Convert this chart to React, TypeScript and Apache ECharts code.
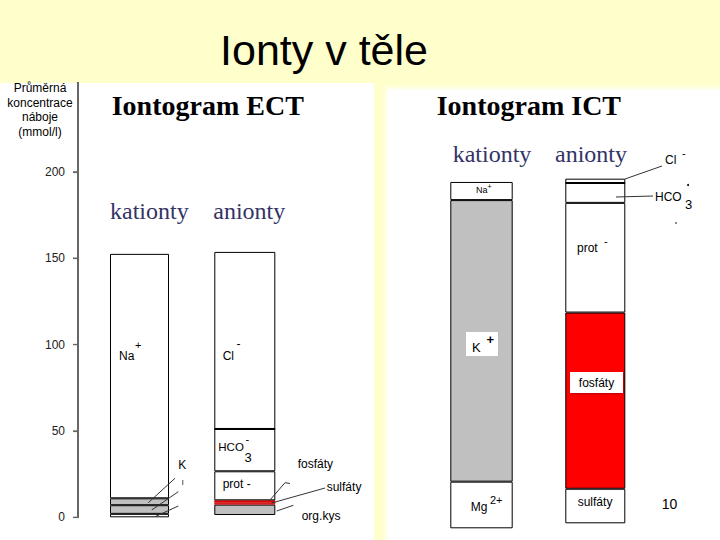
import React, { useEffect, useRef } from 'react';
import * as echarts from 'echarts';

// ---------- data ----------
const ectCationNames = ['Mg2+', 'Ca2+', 'K+', 'Na+'];
const ectCationValues = [2, 5, 4, 141.5];
const ectAnionNames = ['org.kys', 'sulfáty', 'fosfáty', 'prot-', 'HCO3-', 'Cl-'];
const ectAnionValues = [6, 1, 1.5, 16.8, 24.5, 102.5];
const ictCationNames = ['Mg2+', 'K+', 'Na+'];
const ictCationValues = [27, 163, 10.5];
const ictAnionNames = ['sulfáty', 'fosfáty', 'prot-', 'HCO3-', 'Cl-'];
const ictAnionValues = [20, 102, 63.5, 11.5, 2.5];
const axisTickValues = [0, 50, 100, 150, 200];
const axisMax = 200;
const axisStep = 50;

// ---------- styles ----------
const GREY = '#c0c0c0';
const WHITE = '#ffffff';
const RED = '#ff0000';
const ECTRED = '#e80000';
const ectCationColors = [WHITE, GREY, GREY, WHITE];
const ectAnionColors = [GREY, ECTRED, ECTRED, WHITE, WHITE, WHITE];
const ictCationColors = [WHITE, GREY, WHITE];
const ictAnionColors = [WHITE, RED, WHITE, WHITE, WHITE];

const SANS = '"Liberation Sans", Arial, sans-serif';
const SERIF = '"Liberation Serif", "Times New Roman", serif';
const PPU = 1.7274; // pixels per mmol/l
const AXIS_COLOR = '#666666';
const AXIS_X = 78;
const AXIS_BASE = 517.3;
const AXIS_TOP = 82;

const panels = [
  { left: AXIS_X, width: 123, top: AXIS_BASE - axisMax * PPU, baseY: AXIS_BASE, barWidth: 59, names: ectCationNames, values: ectCationValues, colors: ectCationColors, showAxis: true, thick: -1 },
  { left: 214.3, width: 61, top: 82, baseY: 515, barWidth: 61, names: ectAnionNames, values: ectAnionValues, colors: ectAnionColors, showAxis: false, thick: 4 },
  { left: 450.3, width: 62.4, top: 100, baseY: 528.3, barWidth: 62.4, names: ictCationNames, values: ictCationValues, colors: ictCationColors, showAxis: false, thick: -1 },
  { left: 565.3, width: 60, top: 100, baseY: 523.3, barWidth: 60, names: ictAnionNames, values: ictAnionValues, colors: ictAnionColors, showAxis: false, thick: 3 },
];

const txt = (text: string, x: number, y: number, size: number, o: any = {}) => ({
  type: 'text',
  x,
  y,
  z: 100,
  silent: true,
  style: {
    text,
    fill: o.fill ?? '#000',
    font: `${o.weight ?? 'normal'} ${size}px ${o.family ?? SANS}`,
    align: o.align ?? 'left',
    textAlign: o.align ?? 'left',
    verticalAlign: 'middle',
    textVerticalAlign: 'middle',
  },
});

const line = (pts: number[][], color = '#333', width = 1) => ({
  type: 'polyline',
  z: 100,
  silent: true,
  shape: { points: pts },
  style: { stroke: color, lineWidth: width, fill: null },
});

const seg = (x1: number, y1: number, x2: number, y2: number, color: string, width: number) => ({
  type: 'line',
  z: 110,
  silent: true,
  shape: { x1, y1, x2, y2 },
  style: { stroke: color, lineWidth: width },
});

export default function App() {
  const ref = useRef<HTMLDivElement>(null);

  useEffect(() => {
    document.body.style.margin = '0';
    if (!ref.current) return;
    const chart = echarts.init(ref.current, null, { renderer: 'svg' });

    const grid: any[] = [];
    const xAxis: any[] = [];
    const yAxis: any[] = [];
    const series: any[] = [];

    panels.forEach((p, i) => {
      const h = p.baseY - p.top;
      grid.push({ left: p.left, width: p.width, top: p.top, height: h, containLabel: false });
      xAxis.push({ type: 'category', gridIndex: i, data: ['x'], show: false });
      yAxis.push({
        type: 'value',
        gridIndex: i,
        position: 'left',
        min: 0,
        max: p.showAxis ? axisMax : h / PPU,
        interval: axisStep,
        show: p.showAxis,
        splitLine: { show: false },
        axisLine: { show: true, onZero: false, lineStyle: { color: AXIS_COLOR, width: 2 } },
        axisTick: { show: true, length: 5, lineStyle: { color: AXIS_COLOR, width: 1.2 } },
        axisLabel: { show: true, margin: 13, color: '#222', fontSize: 12, fontFamily: SANS },
      });
      let cum = 0;
      p.values.forEach((v, j) => {
        cum += v;
        const isRed = p.colors[j] === ECTRED;
        const s: any = {
          type: 'bar',
          name: p.names[j],
          xAxisIndex: i,
          yAxisIndex: i,
          stack: 'st' + i,
          data: [v],
          barWidth: p.barWidth,
          silent: true,
          itemStyle: { color: p.colors[j], borderColor: isRed ? '#c00000' : '#000', borderWidth: isRed ? 0.6 : 1 },
        };
        if (j === p.thick) {
          s.markLine = {
            silent: true,
            symbol: 'none',
            label: { show: false },
            lineStyle: { color: '#000', width: 2.2, type: 'solid' },
            data: [{ yAxis: cum }],
          };
        }
        series.push(s);
      });
    });

    // value axis line (extended above the last tick) and ticks, on the axis scale
    const axisGraphics: any[] = [
      seg(AXIS_X, AXIS_TOP, AXIS_X, AXIS_BASE, AXIS_COLOR, 2),
      ...axisTickValues.map((v) => seg(AXIS_X - 5, AXIS_BASE - v * PPU, AXIS_X, AXIS_BASE - v * PPU, AXIS_COLOR, 1.2)),
    ];

    const graphic: any[] = [
      ...axisGraphics,
      txt('Ionty v těle', 324, 50, 43, { align: 'center' }),
      // axis name
      txt('Průměrná', 40, 88, 12, { align: 'center' }),
      txt('koncentrace', 40, 103, 12, { align: 'center' }),
      txt('náboje', 40, 117, 12, { align: 'center' }),
      txt('(mmol/l)', 40, 132, 12, { align: 'center' }),
      // headings
      txt('Iontogram ECT', 111.7, 105, 28, { family: SERIF, weight: 'bold' }),
      txt('Iontogram ICT', 436.7, 105, 28, { family: SERIF, weight: 'bold' }),
      txt('kationty', 110, 211, 24, { family: SERIF, fill: '#333366' }),
      txt('anionty', 213.3, 211, 24, { family: SERIF, fill: '#333366' }),
      txt('kationty', 452.7, 154, 24, { family: SERIF, fill: '#333366' }),
      txt('anionty', 555, 154, 24, { family: SERIF, fill: '#333366' }),
      // ECT cation labels
      txt('Na', 119, 356, 12),
      txt('+', 135, 345, 11),
      txt('K', 178.3, 465, 12),
      line([[182.8, 480], [182.8, 485]], '#555'),
      line([[148.3, 502.7], [175, 478.3]]),
      line([[151.7, 510], [178.3, 491.7]]),
      line([[155, 516.7], [178.3, 506]]),
      // ECT anion labels
      txt('Cl', 222.7, 356, 12),
      txt('-', 236.5, 344, 12),
      txt('HCO', 218.3, 446.5, 11.5),
      txt('-', 245.5, 438.5, 11),
      txt('3', 244.5, 457, 13),
      txt('prot -', 222.7, 484.3, 12),
      txt('fosfáty', 297.7, 464.3, 12),
      txt('sulfáty', 326.7, 486.7, 12),
      txt('org.kys', 301.7, 515.7, 12),
      line([[270, 500], [285, 482.7], [290, 483.5]]),
      line([[271.7, 503], [325, 488]]),
      line([[276.7, 511], [293.3, 505.3]]),
      // ICT cation labels
      txt('Na', 476, 189.5, 9),
      txt('+', 487.5, 186, 7),
      { type: 'rect', z: 99, silent: true, shape: { x: 466, y: 332, width: 32, height: 24 }, style: { fill: '#fff' } },
      txt('K', 472, 347.5, 13),
      txt('+', 486.5, 339, 13, { weight: 'bold' }),
      txt('Mg', 470.7, 507.3, 12),
      txt('2+', 490, 500, 11),
      // ICT anion labels
      txt('prot', 577, 248.3, 12),
      txt('-', 604, 241, 11),
      { type: 'rect', z: 99, silent: true, shape: { x: 570, y: 372, width: 53, height: 21 }, style: { fill: '#fff', shadowBlur: 2, shadowColor: 'rgba(0,0,0,0.3)', shadowOffsetX: 1, shadowOffsetY: 1 } },
      txt('fosfáty', 596.5, 382.5, 12, { align: 'center' }),
      txt('sulfáty', 577.7, 501.7, 12),
      txt('Cl', 665, 160, 12),
      txt('-', 682, 153, 11),
      txt('HCO', 655, 196.7, 12),
      txt('3', 685, 204, 13),
      { type: 'circle', z: 100, silent: true, shape: { cx: 688, cy: 185, r: 1 }, style: { fill: '#000' } },
      { type: 'circle', z: 100, silent: true, shape: { cx: 676, cy: 223, r: 0.8 }, style: { fill: '#444' } },
      line([[625, 179], [662, 166]]),
      line([[616, 197], [653, 196]]),
      txt('10', 661.7, 504, 14),
    ];

    chart.setOption({
      animation: false,
      backgroundColor: 'transparent',
      grid,
      xAxis,
      yAxis,
      series,
      graphic,
    });
    return () => chart.dispose();
  }, []);

  return (
    <div style={{ position: 'fixed', left: 0, top: 0, width: 720, height: 540, background: '#ffffcc', overflow: 'hidden' }}>
      <div style={{ position: 'absolute', left: 0, top: 83, width: 374, height: 457, background: '#ffffff' }} />
      <div style={{ position: 'absolute', left: 388, top: 90, width: 332, height: 450, background: '#ffffff', boxShadow: '0 0 5px 2px #ffffff' }} />
      <div ref={ref} style={{ position: 'absolute', left: 0, top: 0, width: 720, height: 540 }} />
    </div>
  );
}
